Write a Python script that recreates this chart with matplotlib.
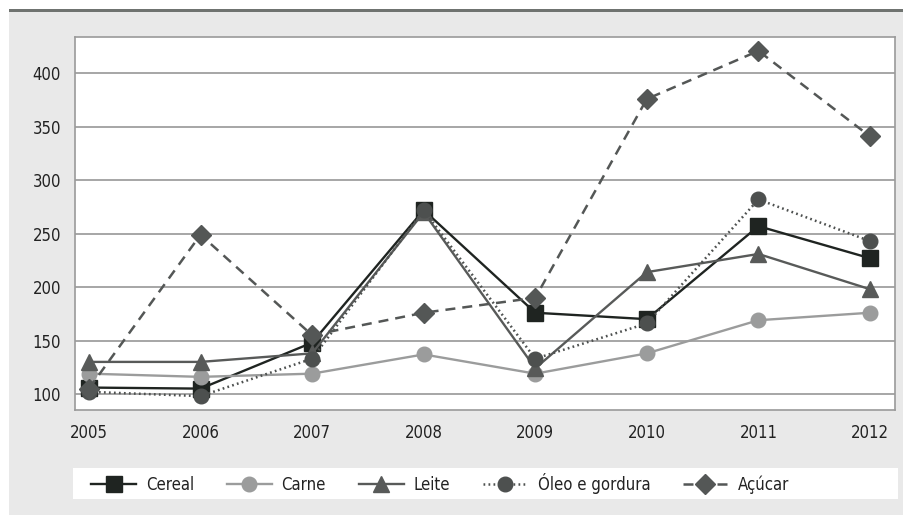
import matplotlib
matplotlib.use("Agg")
import matplotlib.pyplot as plt
from matplotlib.patches import Rectangle

years = [2005, 2006, 2007, 2008, 2009, 2010, 2011, 2012]
cereal = [106, 105, 148, 272, 176, 170, 257, 227]
carne = [119, 116, 119, 137, 119, 138, 169, 176]
leite = [130, 130, 138, 270, 124, 214, 231, 198]
oleo = [102, 98, 133, 272, 133, 166, 282, 243]
acucar = [105, 249, 155, 176, 190, 376, 421, 341]

series_names = ["Cereal", "Carne", "Leite", "Óleo e gordura", "Açúcar"]
yticks = [100, 150, 200, 250, 300, 350, 400]

plt.rcParams['font.family'] = ["DejaVu Sans"]
plt.rcParams['font.stretch'] = "condensed"

fig = plt.figure(figsize=(9.04, 5.16), dpi=100, facecolor="white")

W, H = 904, 516
fig.patches.append(Rectangle((9 / W, 1 - 515 / H), 1 - 9 / W, (515 - 12) / H,
                             transform=fig.transFigure, facecolor="#e9e9e9",
                             edgecolor="none", zorder=-3))
fig.patches.append(Rectangle((9 / W, 1 - 12 / H), 1 - 9 / W, 3 / H,
                             transform=fig.transFigure, facecolor="#6f7370",
                             edgecolor="none", zorder=-2))
fig.patches.append(Rectangle((73 / W, 1 - 499 / H), (898 - 73) / W, 31 / H,
                             transform=fig.transFigure, facecolor="white",
                             edgecolor="none", zorder=-2))

ax = fig.add_axes([75 / W, 1 - 410 / H, (895 - 75) / W, (410 - 37) / H])
ax.set_zorder(2)
ax.set_facecolor("white")
for s in ax.spines.values():
    s.set_color("#9a9a9a")
    s.set_linewidth(1.2)

ax.set_xlim(2004.875, 2012.224)
ax.set_ylim(85, 434)
ax.set_yticks(yticks)
ax.set_xticks(years)
ax.set_xticklabels([str(y) for y in years])
ax.yaxis.grid(True, color="#8e8e8e", linewidth=1.1)
ax.set_axisbelow(True)
ax.tick_params(axis="both", length=0, labelsize=12, colors="#222222")
ax.tick_params(axis="x", pad=10)
ax.tick_params(axis="y", pad=10)

styles = [
    dict(color="#1f2421", marker="s", ms=11, lw=1.7, ls="-"),
    dict(color="#9b9c9c", marker="o", ms=10.5, lw=1.7, ls="-"),
    dict(color="#585a59", marker="^", ms=11, lw=1.7, ls="-"),
    dict(color="#4d504f", marker="o", ms=10.5, lw=1.8, ls=(0, (0.7, 1.3))),
    dict(color="#545756", marker="D", ms=10, lw=1.8, ls=(0, (4, 2.8))),
]
data = [cereal, carne, leite, oleo, acucar]

handles = []
for name, vals, st in zip(series_names, data, styles):
    line, = ax.plot(years, vals, color=st["color"], lw=st["lw"], ls=st["ls"],
                    marker=st["marker"], ms=st["ms"], mfc=st["color"],
                    mec=st["color"], label=name, clip_on=False, zorder=3)
    handles.append(line)

leg = fig.legend(handles=handles, labels=series_names, ncol=5,
                 loc="center left", bbox_to_anchor=(76 / W, 1 - 483.5 / H),
                 frameon=False, fontsize=12, handlelength=2.7,
                 columnspacing=1.95, handletextpad=0.6, labelcolor="#222222")
leg.set_zorder(5)

fig.savefig("out.png", dpi=100, facecolor="white")
